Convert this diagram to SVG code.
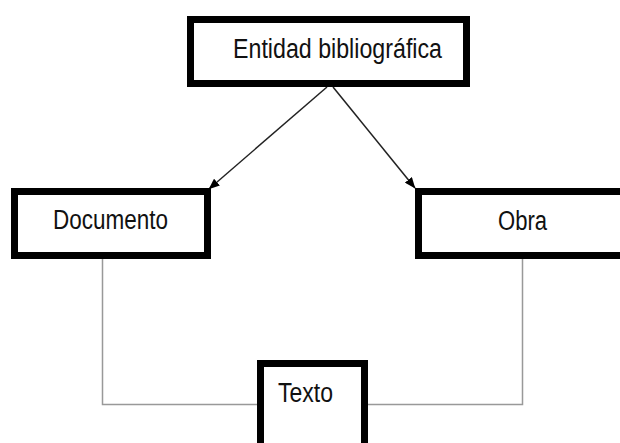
<svg xmlns="http://www.w3.org/2000/svg" width="620" height="443" viewBox="0 0 620 443">
<defs>
<marker id="ah" markerWidth="11" markerHeight="9" refX="10.5" refY="4.5" orient="auto" markerUnits="userSpaceOnUse">
<path d="M0,0 L11,4.5 L0,9 Z" fill="#000"/>
</marker>
</defs>
<style>
.box{fill:#fff;stroke:#000;stroke-width:7}
.lbl{font-family:"Liberation Sans",Arial,sans-serif;font-size:27px;fill:#111}
.arr{stroke:#222;stroke-width:1.5;fill:none;marker-end:url(#ah)}
.ln{stroke:#999;stroke-width:1.5;fill:none}
</style>
<rect width="620" height="443" fill="#fff"/>
<g id="connectors">
<line class="arr" x1="327" y1="87" x2="209" y2="189"/>
<line class="arr" x1="333" y1="87" x2="415" y2="188"/>
<polyline class="ln" points="102.5,259 102.5,404.5 257,404.5"/>
<polyline class="ln" points="522.5,259 522.5,404.5 368,404.5"/>
</g>
<g id="entidad">
<rect class="box" x="190.5" y="19.5" width="276" height="64"/>
<text class="lbl" x="233" y="58" textLength="209" lengthAdjust="spacingAndGlyphs">Entidad bibliográfica</text>
</g>
<g id="documento">
<rect class="box" x="14.5" y="191.5" width="193" height="64"/>
<text class="lbl" x="53" y="229" textLength="115" lengthAdjust="spacingAndGlyphs">Documento</text>
</g>
<g id="obra">
<rect class="box" x="418.5" y="191.5" width="260" height="64"/>
<text class="lbl" x="498" y="230" textLength="49" lengthAdjust="spacingAndGlyphs">Obra</text>
</g>
<g id="texto">
<rect class="box" x="260.5" y="363.5" width="104" height="100"/>
<text class="lbl" x="278" y="402" textLength="55" lengthAdjust="spacingAndGlyphs">Texto</text>
</g>
</svg>
